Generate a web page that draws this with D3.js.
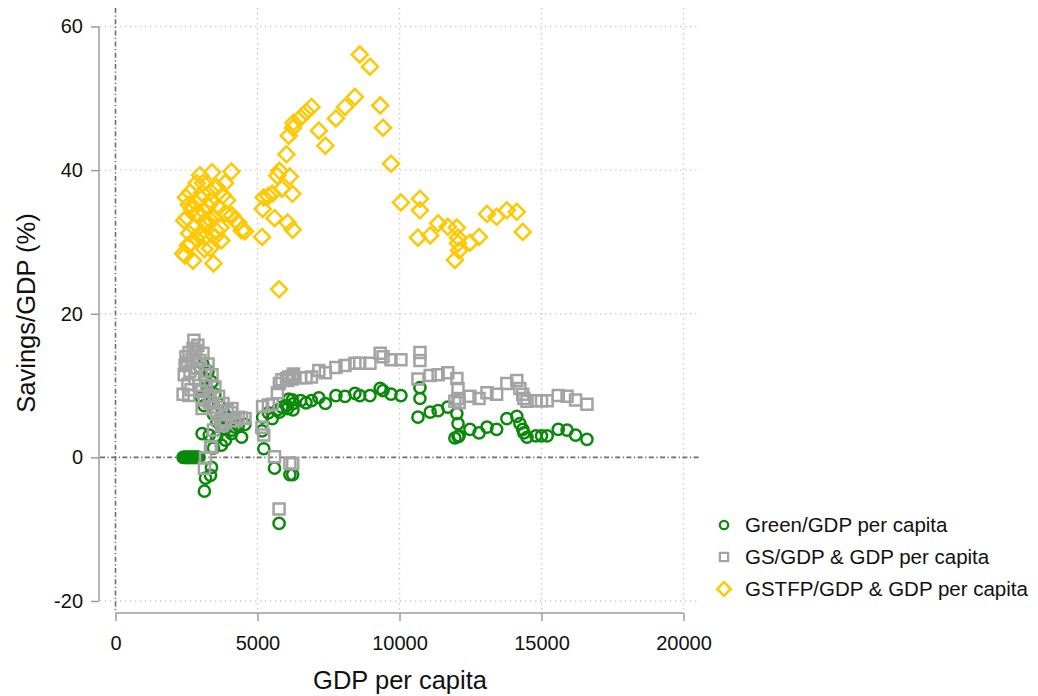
<!DOCTYPE html>
<html>
<head>
<meta charset="utf-8">
<script src="https://cdn.jsdelivr.net/npm/d3@7"></script>
<style>
  html, body { margin: 0; padding: 0; background: #fff; }
  svg { display: block; font-family: "Liberation Sans", Arial, sans-serif; }
</style>
</head>
<body>
<svg id="chart" width="1038" height="696"></svg>
<script>
// GDP per capita for each observation
const gdp = [
  2380, 2420, 2450, 2480, 2520, 2550, 2590, 2620, 2660, 2700, 2730, 2760, 2800, 2830, 2860, 2900, 2940, 2580,
  2975, 3020, 3080, 3120, 3150, 3200, 3260, 3330, 3400, 3450, 3500, 3570, 3630, 3700, 3785, 3860, 3930,
  3050, 3300, 3560, 3870, 4080, 4440, 3730, 3450, 3380, 3345, 3170, 3130, 4210, 4320, 4560, 4100,
  5180, 5160, 5220, 5380, 5520, 5600, 5760, 5770, 5860, 5700, 6020, 6060, 6140, 6240, 6100, 6250, 6230, 6270,
  6520, 6710, 6900, 7160, 7390, 7760, 8080, 8430, 8600, 8960, 9320, 9420, 9700, 10050,
  10650, 10720, 10720, 11080, 11360, 11700, 12020, 12060, 12060, 12100, 11950, 12480, 12800, 13080, 13420,
  13780, 14130, 14240, 14340, 14380, 14490, 14800, 15000, 15200, 15590, 15900, 16200, 16600
];

// Green savings / GDP (%)
const greenRatio = [
  0, 0, 0, 0, 0, 0, 0, 0, 0, 0, 0, 0, 0, 0, 0, 0, 0, 0,
  12.5, 8.4, 13.0, 7.2, 11.0, 9.0, 12.0, 7.8, 10.5, 6.0, 8.8, 5.0, 7.5, 4.4, 6.5, 4.0, 5.6,
  3.3, 3.1, 2.8, 2.4, 3.3, 2.8, 1.7, 1.3, -1.4, -2.5, -2.9, -4.7, 4.2, 4.4, 4.6, 3.8,
  5.6, 3.7, 1.2, 6.2, 5.4, -1.5, -9.2, 6.3, 7.0, 6.6, 7.2, 6.8, -2.4, -2.4, 8.1, 6.6, 8.0, 7.5,
  7.9, 7.6, 7.9, 8.3, 7.5, 8.6, 8.5, 8.9, 8.6, 8.6, 9.6, 9.3, 8.8, 8.6,
  5.6, 9.7, 8.2, 6.3, 6.5, 7.0, 6.1, 4.7, 2.9, 3.0, 2.7, 3.9, 3.4, 4.2, 3.9,
  5.4, 5.7, 4.7, 3.9, 3.4, 2.8, 3.0, 3.0, 3.0, 3.9, 3.8, 3.1, 2.5
];

// Genuine savings / GDP (%)
const gsRatio = [
  8.8, 11.5, 12.8, 14.0, 13.2, 10.2, 14.6, 12.0, 9.4, 13.6, 15.2, 16.3, 11.0, 14.8, 12.4, 15.6, 10.0, 8.6,
  13.5, 9.2, 14.5, 8.0, 12.0, 10.0, 13.0, 8.6, 11.5, 7.0, 9.8, 6.0, 8.5, 5.2, 7.5, 4.8, 6.5,
  6.8, 7.6, 6.4, 5.2, 6.2, 5.5, 4.4, 3.8, 1.4, 1.5, -0.1, -1.5, 5.1, 5.6, 5.4, 6.8,
  7.1, 4.2, 3.1, 7.3, 7.4, 0.1, -7.2, 10.3, 10.8, 9.0, 11.0, 10.7, -0.8, -0.9, 11.2, 11.4, 10.9, 11.6,
  11.1, 11.1, 11.2, 12.1, 11.8, 12.5, 12.8, 13.1, 13.1, 13.1, 14.5, 14.0, 13.6, 13.6,
  10.9, 14.6, 13.5, 11.4, 11.5, 11.8, 11.0, 9.6, 8.2, 7.6, 7.8, 8.5, 8.2, 9.0, 8.8,
  10.3, 10.7, 9.6, 8.8, 8.2, 7.8, 7.9, 7.9, 7.9, 8.6, 8.5, 8.0, 7.4
];

// Genuine savings incl. TFP / GDP (%), null where not available
const gstfpRatio = [
  28.4, 33.0, 28.1, 36.2, 33.4, 29.5, 31.2, 36.9, 29.8, 34.5, 27.4, 32.0, 35.5, 30.5, 38.2, 33.8, 31.0, 35.2,
  39.3, 36.0, 38.2, 34.2, 30.7, 32.5, 35.0, 29.1, 39.7, 33.5, 30.7, 37.6, 34.8, 32.0, 36.5, 38.2, 35.8,
  36.8, 33.2, 31.5, 34.0, 39.8, 31.6, 30.2, 27.0, 35.6, 37.0, 33.0, 29.0, 33.0, 32.7, 31.5, 33.7,
  34.6, 30.7, 36.2, 36.4, 36.7, 33.3, 23.4, 39.9, 37.4, 39.2, 42.2, 32.7, 39.1, 31.7, 44.8, 45.9, 36.7, 46.6,
  47.3, 48.1, 48.8, 45.5, 43.4, 47.2, 48.8, 50.2, 56.1, 54.4, 49.0, 45.9, 40.9, 35.5,
  30.6, 36.0, 34.4, 30.9, 32.6, 32.1, 32.0, 30.6, 29.8, 28.8, 27.5, 29.9, 30.7, 33.9, 33.5,
  34.4, 34.2, null, 31.4, null, null, null, null, null, null, null, null, null
];

const xTicks = [0, 5000, 10000, 15000, 20000];
const yTicks = [-20, 0, 20, 40, 60];

const seriesNames = ["Green/GDP per capita", "GS/GDP & GDP per capita", "GSTFP/GDP & GDP per capita"];
const seriesColors = ["#0a8a0a", "#a3a3a3", "#ffc800"];
const seriesValues = [greenRatio, gsRatio, gstfpRatio];
const seriesSymbols = ["circle", "square", "diamond"];

const svg = d3.select("#chart");
svg.append("rect").attr("width", 1038).attr("height", 696).attr("fill", "#fff");

const x = d3.scaleLinear().domain([0, 20000]).range([115.5, 683.5]);
const y = d3.scaleLinear().domain([-20, 60]).range([601, 26.5]);

const plotLeft = 100, plotRight = 700, plotTop = 8, plotBottom = 612;
const axisColor = "#9c9c9c";

// dotted grid
const grid = svg.append("g");
grid.selectAll("line.hg").data(yTicks.filter(v => v !== 0)).join("line")
  .attr("x1", plotLeft).attr("x2", plotRight)
  .attr("y1", d => y(d)).attr("y2", d => y(d))
  .attr("stroke", "#cccccc").attr("stroke-width", 1.4).attr("stroke-dasharray", "1.4,3.6");
grid.selectAll("line.vg").data(xTicks.filter(v => v !== 0)).join("line")
  .attr("y1", plotTop).attr("y2", plotBottom)
  .attr("x1", d => x(d)).attr("x2", d => x(d))
  .attr("stroke", "#cccccc").attr("stroke-width", 1.4).attr("stroke-dasharray", "1.4,3.6");

// zero reference lines
svg.append("line")
  .attr("x1", plotLeft).attr("x2", plotRight).attr("y1", y(0)).attr("y2", y(0))
  .attr("stroke", "#6e6e6e").attr("stroke-width", 1.6).attr("stroke-dasharray", "5,2.5,1.2,2.5");
svg.append("line")
  .attr("x1", x(0)).attr("x2", x(0)).attr("y1", plotTop).attr("y2", plotBottom)
  .attr("stroke", "#6e6e6e").attr("stroke-width", 1.6).attr("stroke-dasharray", "5,2.5,1.2,2.5");

// axes
const yAxis = svg.append("g").attr("transform", "translate(99,0)")
  .call(d3.axisLeft(y).tickValues(yTicks).tickSize(8).tickPadding(8).tickFormat(d => String(d)));
const xAxis = svg.append("g").attr("transform", "translate(0,613)")
  .call(d3.axisBottom(x).tickValues(xTicks).tickSize(8).tickPadding(15).tickFormat(d => String(d)));
[xAxis, yAxis].forEach(g => {
  g.selectAll("path, line").attr("stroke", axisColor).attr("stroke-width", 1.5);
  g.selectAll("text").attr("fill", "#111").attr("font-size", 20)
    .attr("font-family", "'Liberation Sans', Arial, sans-serif");
});
yAxis.select("path.domain").attr("d", `M0,${y(60)}V${y(-20)}`);
xAxis.select("path.domain").attr("d", `M${x(0)},0H${x(20000)}`);

svg.append("text").attr("x", 400).attr("y", 689).attr("text-anchor", "middle")
  .attr("font-size", 25.5).attr("fill", "#111").text("GDP per capita");
svg.append("text").attr("transform", "translate(35,313) rotate(-90)").attr("text-anchor", "middle")
  .attr("font-size", 25.5).attr("fill", "#111").text("Savings/GDP (%)");

// marker shapes
function markerPath(kind) {
  if (kind === "diamond") return "M0,-8L8,0L0,8L-8,0Z";
  if (kind === "circle") return d3.symbol(d3.symbolCircle, Math.PI * 5.6 * 5.6)();
  return d3.symbol(d3.symbolSquare, 11 * 11)();
}

const marks = svg.append("g");
// series are drawn in legend order: circles, then squares, then diamonds
[0, 1, 2].forEach(si => {
  const vals = seriesValues[si];
  const pts = gdp.map((g, i) => ({ g, v: vals[i] })).filter(d => d.v !== null);
  marks.append("g").selectAll("path").data(pts).join("path")
    .attr("d", markerPath(seriesSymbols[si]))
    .attr("transform", d => `translate(${x(d.g)},${y(d.v)})`)
    .attr("fill", "none").attr("stroke", seriesColors[si]).attr("stroke-width", 2.5);
});

// legend
const legend = svg.append("g").attr("transform", "translate(724,525)");
seriesNames.forEach((name, i) => {
  const row = legend.append("g").attr("transform", `translate(0,${i * 32})`);
  const s = i === 2 ? 0.85 : 0.75;
  row.append("path").attr("d", markerPath(seriesSymbols[i])).attr("transform", `scale(${s})`)
    .attr("fill", "none").attr("stroke", seriesColors[i]).attr("stroke-width", 3);
  row.append("text").attr("x", 21).attr("y", 0).attr("dy", "0.35em")
    .attr("font-size", 20.5).attr("fill", "#111").text(name);
});
</script>
</body>
</html>
